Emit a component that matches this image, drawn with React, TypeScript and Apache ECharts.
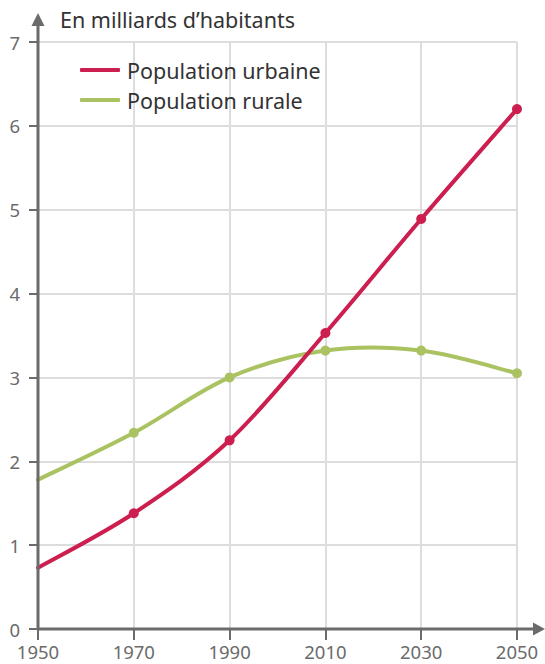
import React, { useEffect, useRef } from "react";
import * as echarts from "echarts";

const years = ["1950", "1970", "1990", "2010", "2030", "2050"];
const urbanValues = [0.73, 1.38, 2.25, 3.53, 4.89, 6.2];
const ruralValues = [1.78, 2.34, 3.0, 3.32, 3.32, 3.05];
const urbanName = "Population urbaine";
const ruralName = "Population rurale";
const unitTitle = "En milliards d\u2019habitants";

const FONT = "Noto Sans";
const AXIS = "#6b6b6b";
const URBAN_COLOR = "#cc1f50";
const RURAL_COLOR = "#aac262";

function smoothCurve(vals: number[], color: string, tension: number) {
  return (params: any, api: any) => {
    if (params.dataIndex !== 0) return null;
    const pts = vals.map((v, i) => api.coord([i, v]));
    let d = `M${pts[0][0]},${pts[0][1]}`;
    for (let i = 0; i < pts.length - 1; i++) {
      const p0 = pts[i - 1] || pts[i];
      const p1 = pts[i];
      const p2 = pts[i + 1];
      const p3 = pts[i + 2] || pts[i + 1];
      const c1x = p1[0] + ((p2[0] - p0[0]) / 6) * tension;
      const c1y = p1[1] + ((p2[1] - p0[1]) / 6) * tension;
      const c2x = p2[0] - ((p3[0] - p1[0]) / 6) * tension;
      const c2y = p2[1] - ((p3[1] - p1[1]) / 6) * tension;
      d += ` C${c1x},${c1y} ${c2x},${c2y} ${p2[0]},${p2[1]}`;
    }
    return {
      type: "path",
      shape: { pathData: d },
      style: { fill: "none", stroke: color, lineWidth: 4, lineCap: "round", lineJoin: "round" },
    };
  };
}

export default function App() {
  const ref = useRef<HTMLDivElement>(null);
  useEffect(() => {
    document.body.style.margin = "0";
    const chart = echarts.init(ref.current!, null, { renderer: "svg" });
    const mk = (vals: number[]) =>
      vals.map((v, i) => (i === 0 ? { value: v, symbol: "none" } : { value: v }));
    chart.setOption({
      animation: false,
      backgroundColor: "#fff",
      textStyle: { fontFamily: FONT },
      grid: { left: 38, right: 28, top: 42, bottom: 35, containLabel: false },
      legend: {
        orient: "vertical",
        left: 75,
        top: 52,
        itemWidth: 40,
        itemHeight: 4,
        itemGap: 4,
        icon: "roundRect",
        textStyle: { fontSize: 21.5, color: "#333", fontFamily: FONT, lineHeight: 26, padding: [0, 0, 0, 2] },
        data: [urbanName, ruralName],
      },
      xAxis: {
        type: "category",
        data: years,
        boundaryGap: false,
        axisLine: { show: false },
        axisTick: { show: true, length: 11, lineStyle: { color: AXIS, width: 2 } },
        axisLabel: { color: "#6b6b6b", fontSize: 18.5, margin: 13, fontFamily: FONT },
        splitLine: { show: true, lineStyle: { color: "#dddddd", width: 2 } },
      },
      yAxis: {
        type: "value",
        min: 0,
        max: 7,
        interval: 1,
        axisLine: { show: false },
        axisTick: { show: true, length: 9, lineStyle: { color: AXIS, width: 2 } },
        axisLabel: { color: "#6b6b6b", fontSize: 18.5, margin: 18, fontFamily: FONT },
        splitLine: { show: true, lineStyle: { color: "#dddddd", width: 2 } },
      },
      graphic: [
        { type: "line", z: 100, shape: { x1: 38, y1: 629, x2: 537, y2: 629 }, style: { stroke: AXIS, lineWidth: 3 } },
        { type: "polygon", z: 100, shape: { points: [[545, 629], [533, 622.5], [533, 635.5]] }, style: { fill: AXIS } },
        { type: "line", z: 100, shape: { x1: 38, y1: 629, x2: 38, y2: 22 }, style: { stroke: AXIS, lineWidth: 3 } },
        { type: "polygon", z: 100, shape: { points: [[38, 13], [31.5, 26], [44.5, 26]] }, style: { fill: AXIS } },
        { type: "text", z: 100, left: 60, top: 8, style: { text: unitTitle, fontSize: 21.5, fill: "#333", fontFamily: FONT } },
      ],
      series: [
        {
          name: urbanName,
          type: "line",
          data: mk(urbanValues),
          symbol: "circle",
          symbolSize: 10,
          color: URBAN_COLOR,
          lineStyle: { width: 0, opacity: 0 },
          z: 5,
        },
        {
          name: ruralName,
          type: "line",
          data: mk(ruralValues),
          symbol: "circle",
          symbolSize: 10,
          color: RURAL_COLOR,
          lineStyle: { width: 0, opacity: 0 },
          z: 4,
        },
        {
          type: "custom",
          data: urbanValues,
          renderItem: smoothCurve(urbanValues, URBAN_COLOR, 1),
          z: 3,
          silent: true,
        },
        {
          type: "custom",
          data: ruralValues,
          renderItem: smoothCurve(ruralValues, RURAL_COLOR, 1),
          z: 2,
          silent: true,
        },
      ],
    });
    return () => chart.dispose();
  }, []);
  return <div ref={ref} style={{ width: 545, height: 664 }} />;
}
